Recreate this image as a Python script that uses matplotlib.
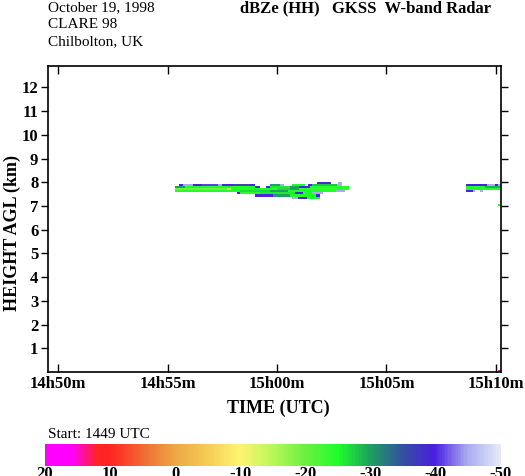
import numpy as np
import matplotlib
matplotlib.use("Agg")
import matplotlib.pyplot as plt
from matplotlib.colors import LinearSegmentedColormap, Normalize

plt.rcParams['font.family'] = 'Liberation Serif'
plt.rcParams['axes.unicode_minus'] = False

# time axis in minutes after 14h50m UTC
time_ticks = [0, 5, 10, 15, 20]
time_labels = ['14h50m', '14h55m', '15h00m', '15h05m', '15h10m']
height_ticks = [1, 2, 3, 4, 5, 6, 7, 8, 9, 10, 11, 12]
cbar_ticks = [20, 10, 0, -10, -20, -30, -40, -50]

# colour scale (dBZe -> colour)
scale_dbz = [-50, -45, -40, -35, -30, -25, -20, -15, -10, -5, 0, 5, 10, 12, 16, 20]
scale_colors = ['#e4eaf8', '#a8aaee', '#4a1ee0', '#3350a0', '#1ea060', '#1eff2a',
                '#6cf040', '#b8f858', '#fff470', '#f5cc55', '#eca845', '#f06a32',
                '#ff2424', '#ff2424', '#ff00ff', '#ff00ff']

# radar echoes: (gate centre height km, start min, end min, dBZe)
gate_depth = 0.09
echoes = [
    # first cloud, 14h55m - 15h03m
    (7.97, 11.83, 12.49, -40), (7.97, 12.79, 12.97, -45),
    (7.885, 5.52, 5.70, -40), (7.885, 5.70, 6.16, -45), (7.885, 6.16, 6.57, -40),
    (7.885, 6.57, 7.30, -41), (7.885, 7.30, 7.49, -45), (7.885, 7.49, 7.99, -40),
    (7.885, 7.99, 8.77, -36), (7.885, 8.77, 8.99, -40),
    (7.885, 9.68, 10.14, -30), (7.885, 10.14, 10.30, -45),
    (7.885, 10.69, 11.28, -25), (7.885, 11.40, 11.60, -40), (7.885, 11.60, 12.75, -28),
    (7.885, 12.75, 12.97, -45),
    (7.80, 5.34, 5.79, -30), (7.80, 5.79, 8.99, -25), (7.80, 8.99, 9.22, -40),
    (7.80, 9.50, 9.68, -40), (7.80, 9.68, 10.60, -26), (7.80, 10.60, 11.00, -30),
    (7.80, 11.00, 11.50, -40), (7.80, 11.50, 13.29, -25),
    (7.71, 5.34, 7.72, -20), (7.71, 7.72, 7.90, -15), (7.71, 7.90, 9.99, -25),
    (7.71, 9.99, 10.60, -27), (7.71, 10.60, 11.00, -30), (7.71, 11.00, 13.29, -24),
    (7.625, 5.34, 8.31, -25), (7.625, 8.31, 9.70, -27), (7.625, 9.70, 10.50, -30),
    (7.625, 10.50, 12.70, -25), (7.625, 12.70, 13.10, -45),
    (7.54, 8.17, 8.31, -40), (7.54, 8.31, 9.22, -24), (7.54, 9.22, 10.83, -26),
    (7.54, 10.83, 11.19, -40), (7.54, 11.19, 11.60, -25), (7.54, 11.60, 12.10, -45),
    (7.44, 8.99, 9.82, -40), (7.44, 9.82, 10.60, -30), (7.44, 10.60, 11.80, -25),
    (7.44, 11.80, 11.96, -40),
    (7.33, 10.69, 10.96, -45), (7.33, 10.96, 11.37, -40), (7.33, 11.37, 11.96, -25),
    # second cloud, 15h08m onwards
    (7.885, 18.64, 19.60, -40), (7.885, 19.60, 19.97, -45), (7.885, 19.97, 20.10, -40),
    (7.885, 20.10, 20.24, -45),
    (7.80, 18.64, 19.50, -25), (7.80, 19.50, 20.24, -29),
    (7.71, 18.64, 20.24, -25),
    (7.625, 18.64, 18.96, -40), (7.625, 18.96, 19.05, -45), (7.625, 19.28, 19.42, -45),
    (7.05, 20.10, 20.24, -25),
    (0.05, 20.10, 20.24, 20),
]

cmap = LinearSegmentedColormap.from_list(
    'radar', [((v + 50) / 70.0, c) for v, c in zip(scale_dbz, scale_colors)])
norm = Normalize(vmin=-50, vmax=20)

fig = plt.figure(figsize=(5.25, 4.76), dpi=100)
ax = fig.add_axes([48 / 525, 1 - 372 / 476, 453 / 525, 306 / 476])

for h, t0, t1, dbz in echoes:
    ax.bar(t0, gate_depth, width=t1 - t0, bottom=h - gate_depth / 2, align='edge',
           color=cmap(norm(dbz)), linewidth=0)

ax.set_xlim(-0.47, 20.24)
ax.set_ylim(0, 12.9)
ax.set_xticks(time_ticks)
ax.set_xticklabels(time_labels, fontsize=12, fontweight='bold')
ax.set_yticks(height_ticks)
ax.set_yticklabels([str(v) for v in height_ticks], fontsize=12, fontweight='bold')
ax.tick_params(axis='x', direction='in', top=True, length=6, width=1, pad=3)
ax.tick_params(axis='y', direction='out', right=True, length=5, width=1, pad=2)
for sp in ax.spines.values():
    sp.set_linewidth(1.2)

fig.text(278 / 525, 1 - 408 / 476, 'TIME (UTC)', fontsize=13, fontweight='bold',
         ha='center', va='center')
fig.text(12 / 525, 1 - 233 / 476, 'HEIGHT AGL (km)', fontsize=13, fontweight='bold',
         ha='center', va='center', rotation=90)

# header
fig.text(48 / 525, 1 - 8 / 476, 'October 19, 1998', fontsize=11, va='center')
fig.text(48 / 525, 1 - 25 / 476, 'CLARE 98', fontsize=11, va='center')
fig.text(48 / 525, 1 - 42 / 476, 'Chilbolton, UK', fontsize=11, va='center')
fig.text(365 / 525, 1 - 8 / 476, 'dBZe (HH)   GKSS  W-band Radar', fontsize=12,
         fontweight='bold', ha='center', va='center')
fig.text(48 / 525, 1 - 435 / 476, 'Start: 1449 UTC', fontsize=11, va='center')

# colour bar
cax = fig.add_axes([45 / 525, 1 - 466 / 476, 456 / 525, 22 / 476])
grad = np.linspace(-50, 20, 400)
cax.pcolormesh(grad, [0, 1], np.vstack([grad[:-1]]), cmap=cmap, norm=norm)
cax.set_xlim(20, -50)
cax.set_ylim(0, 1)
cax.set_yticks([])
cax.set_xticks(cbar_ticks)
cax.set_xticklabels([str(v) for v in cbar_ticks], fontsize=12, fontweight='bold')
cax.tick_params(axis='x', length=0, pad=0)
for sp in cax.spines.values():
    sp.set_visible(False)

fig.savefig('out.png', dpi=100)
